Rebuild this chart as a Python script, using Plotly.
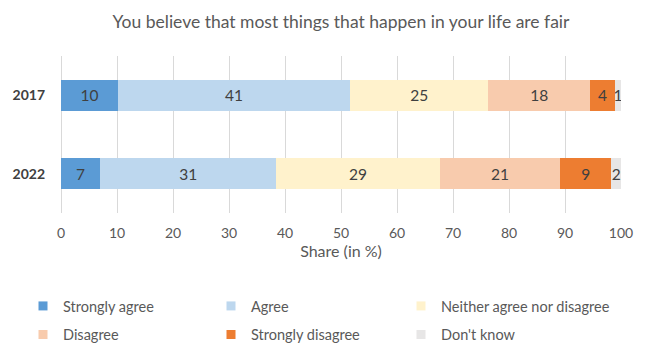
import plotly.graph_objects as go

years = ["2017", "2022"]
series_names = ["Strongly agree", "Agree", "Neither agree nor disagree",
                "Disagree", "Strongly disagree", "Don't know"]
strongly_agree = [10.2, 7.0]
agree = [41.4, 31.4]
neither = [24.7, 29.3]
disagree = [18.2, 21.4]
strongly_disagree = [4.4, 9.2]
dont_know = [1.1, 1.7]
x_ticks = [0, 10, 20, 30, 40, 50, 60, 70, 80, 90, 100]

values = [strongly_agree, agree, neither, disagree, strongly_disagree, dont_know]
colors = ["#5b9bd5", "#bdd7ee", "#fff2cc", "#f8cbad", "#ed7d31", "#e7e6e6"]
legend_ids = ["legend", "legend2", "legend3", "legend4", "legend5", "legend6"]
# legend placement (container px): text start columns, row centres
legend_x_px = [23, 211, 401, 23, 211, 401]
legend_y_px = [306, 306, 306, 334.5, 334.5, 334.5]

FONT = "Lato"
W, H = 646, 343
fig = go.Figure()
for name, vals, col in zip(series_names, values, colors):
    fig.add_trace(go.Bar(
        y=years, x=vals, name=name, orientation="h",
        marker=dict(color=col, line=dict(width=0)),
        text=vals, texttemplate="%{x:.0f}", textposition="inside",
        insidetextanchor="middle", textangle=0,
        textfont=dict(color="#404040", size=15.5, family=FONT),
        showlegend=False, hoverinfo="skip",
    ))
# legend entries (square markers like the reference)
for name, col, lg in zip(series_names, colors, legend_ids):
    fig.add_trace(go.Scatter(
        x=[None], y=[None], mode="markers", name=name, legend=lg,
        marker=dict(symbol="square", size=9, color=col), showlegend=True,
    ))

layout_legends = {}
for lg, xp, yp in zip(legend_ids, legend_x_px, legend_y_px):
    layout_legends[lg] = dict(
        orientation="h", xref="container", yref="container",
        x=xp / W, xanchor="left", y=1 - yp / H, yanchor="middle",
        font=dict(size=14.5, color="#595959", family=FONT),
        bgcolor="rgba(0,0,0,0)", borderwidth=0,
    )

fig.update_layout(
    barmode="stack", bargap=0.605,
    width=W, height=H,
    margin=dict(l=61, r=25, t=56, b=130, autoexpand=False),
    paper_bgcolor="white", plot_bgcolor="white",
    font=dict(family=FONT, color="#595959", size=14),
    uniformtext=dict(minsize=15.5, mode="show"),
    title=dict(text="You believe that most things that happen in your life are fair",
               x=0.5, xref="paper", xanchor="center", y=1 - 22 / H, yanchor="middle",
               font=dict(size=17.5, color="#595959", family=FONT)),
    xaxis=dict(range=[0, 100], tickvals=x_ticks, showgrid=True, gridcolor="#d9d9d9",
               gridwidth=1, zeroline=True, zerolinecolor="#d9d9d9", zerolinewidth=1,
               showline=False, ticks="", tickfont=dict(size=14, color="#595959"),
               ticklabelstandoff=10, automargin=False,
               title=dict(text="Share (in %)", font=dict(size=16, color="#595959"), standoff=0)),
    yaxis=dict(autorange="reversed", showgrid=False, showline=False, ticks="",
               tickfont=dict(size=14, color="#404040", family=FONT, weight="bold"),
               ticklabelstandoff=15, automargin=False),
    **layout_legends,
)

fig.write_html("out.html")
